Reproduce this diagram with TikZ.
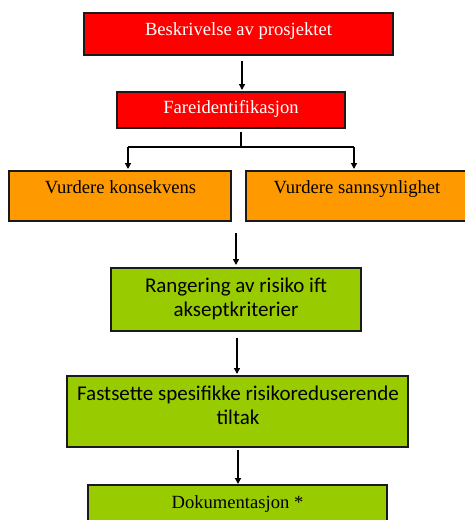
\documentclass[tikz,border=0pt]{standalone}
\usepackage{fontspec}
\setmainfont{Liberation Serif}
\newfontfamily\calib{Carlito}
\usetikzlibrary{arrows.meta}
\definecolor{boxred}{HTML}{FF0000}
\definecolor{boxorange}{HTML}{FF9900}
\definecolor{boxgreen}{HTML}{99CC00}
\definecolor{edge}{HTML}{1A1A1A}
\tikzset{
  stepbox/.style={draw=edge, line width=1.6pt, inner sep=0pt, minimum width=#1},
  tserif/.style={anchor=base, inner sep=0pt, font=\fontsize{18.6}{22}\selectfont},
  tcal/.style={anchor=base, inner sep=0pt, align=center, font=\calib\fontsize{21}{24}\selectfont},
  conn/.style={draw=black, line width=1.3pt},
  arr/.style={conn, -{Triangle[length=6pt,width=6pt]}},
}
\begin{document}
\begin{tikzpicture}[x=1pt,y=-1pt]
\useasboundingbox (0,0) rectangle (464,520);
% boxes
\node[stepbox=309pt, minimum height=42pt, fill=boxred] (b1) at (238.5,34) {};
\node[stepbox=228pt, minimum height=36pt, fill=boxred] (b2) at (231,110) {};
\node[stepbox=222pt, minimum height=50pt, fill=boxorange] (b3) at (120,196) {};
\node[stepbox=221pt, minimum height=50pt, fill=boxorange] (b4) at (356.5,196) {};
\node[stepbox=250pt, minimum height=63pt, fill=boxgreen] (b5) at (236,299.5) {};
\node[stepbox=341pt, minimum height=71pt, fill=boxgreen] (b6) at (237.5,411.5) {};
\node[stepbox=299pt, minimum height=44pt, fill=boxgreen] (b7) at (237.5,507) {};
% texts
\node[tserif, text=white] (t1) at (238.5,35) {Beskrivelse av prosjektet};
\node[tserif, text=white] (t2) at (231,113) {Fareidentifikasjon};
\node[tserif] (t3) at (120.5,193) {Vurdere konsekvens};
\node[tserif] (t4) at (357,193) {Vurdere sannsynlighet};
\node[tcal] (t5) at (236,316) {Rangering av risiko ift\\akseptkriterier};
\node[tcal] (t6) at (238,424) {Fastsette spesifikke risikoreduserende\\tiltak};
\node[tserif] (t7) at (237.5,508) {Dokumentasjon *};
% connectors
\coordinate (j) at (241,147);
\coordinate (jl) at (128,147);
\coordinate (jr) at (354,147);
\coordinate (m) at (236,233);
\draw[arr] (242,61) -- (242,90);
\draw[conn] (241,132) -- (j);
\draw[conn] (jl) -- (jr);
\draw[arr] (jl) -- (128,169);
\draw[arr] (jr) -- (354,169);
\draw[arr] (m) -- (236,265);
\draw[arr] (237,338) -- (237,374);
\draw[arr] (238,450) -- (238,484);
\end{tikzpicture}
\end{document}
